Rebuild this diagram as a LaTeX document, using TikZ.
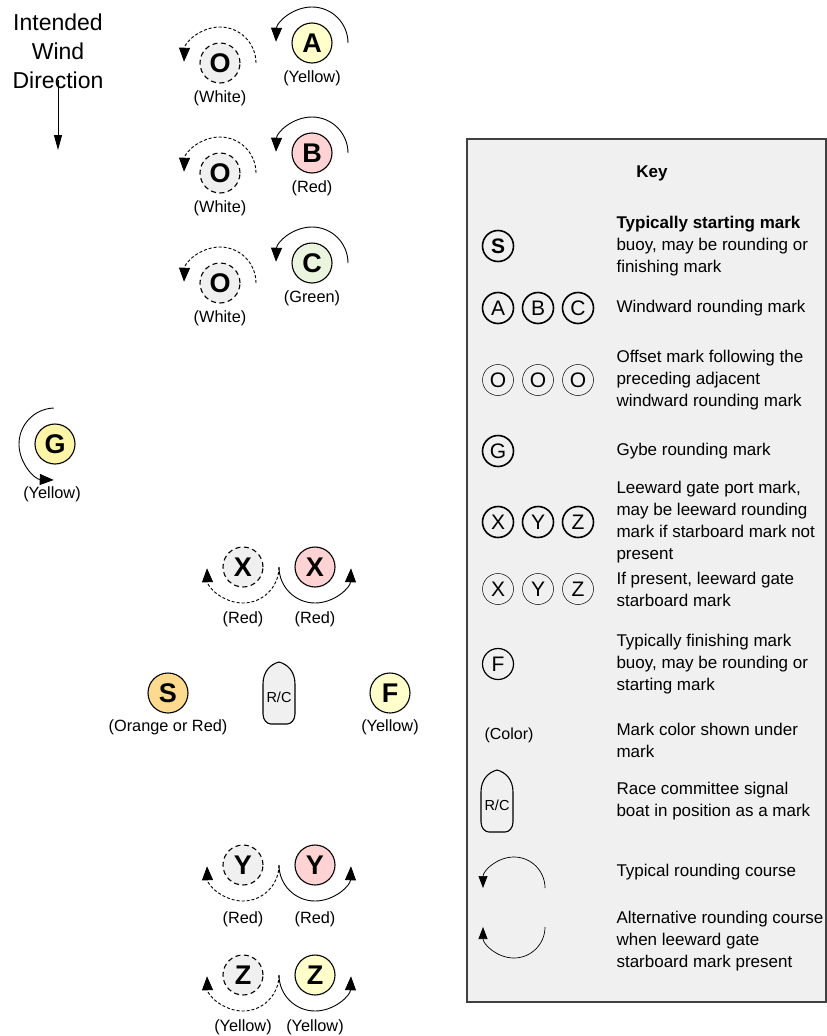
\documentclass[tikz,border=0pt]{standalone}
\usepackage{fontspec}
\setmainfont{Liberation Sans}
\usetikzlibrary{arrows.meta}
\definecolor{paleyellow}{HTML}{FFFFCC}
\definecolor{gybeyellow}{HTML}{FFF5A8}
\definecolor{palered}{HTML}{FFD3D3}
\definecolor{palegreen}{HTML}{EAF4DE}
\definecolor{paleorange}{HTML}{FDDA8E}
\definecolor{offgray}{HTML}{F0F0F0}
\definecolor{keygray}{HTML}{F0F0F0}
\begin{document}
\begin{tikzpicture}
  [x=1pt,y=-1pt,
   buoy/.style={circle,draw,line width=1.1pt,minimum size=40pt,inner sep=0pt,
     font=\fontsize{27}{27}\selectfont\bfseries},
   offbuoy/.style={buoy,dash pattern=on 5pt off 3.5pt,fill=offgray},
   tag/.style={font=\fontsize{16.3}{18}\selectfont},
   course/.style={line width=0.9pt,-{Triangle[length=14pt,width=11pt]}},
   altcourse/.style={course,dash pattern=on 3pt off 2pt},
   keybuoy/.style={circle,draw,line width=1.6pt,minimum size=31pt,inner sep=0pt,
     font=\fontsize{21}{21}\selectfont},
   keythin/.style={keybuoy,line width=0.5pt},
   keytext/.style={anchor=west,align=left,font=\fontsize{17}{22}\selectfont},
   boat/.style={draw,line width=1.1pt,fill=offgray}]
  \useasboundingbox (0,0) rectangle (827,1036);

  % wind
  \node[font=\fontsize{23}{29}\selectfont,align=center] (wind) at (58,51)
    {Intended\\Wind\\Direction};
  \coordinate (windtail) at (58,80);
  \coordinate (windhead) at (58,150);
  \draw[line width=1pt,-{Triangle[length=15pt,width=8pt]}] (windtail) -- (windhead);

  % windward and offset marks
  \node[offbuoy] (o1) at (220,63) {O};
  \node[offbuoy] (o2) at (220,173) {O};
  \node[offbuoy] (o3) at (220,283) {O};
  \node[buoy,fill=paleyellow] (a) at (312,43) {A};
  \node[buoy,fill=palered] (b) at (312,153) {B};
  \node[buoy,fill=palegreen] (c) at (312,263) {C};
  \node[tag] (to1) at (220,98) {(White)};
  \node[tag] (to2) at (220,208) {(White)};
  \node[tag] (to3) at (220,318) {(White)};
  \node[tag] (ta) at (312,78) {(Yellow)};
  \node[tag] (tb) at (312,188) {(Red)};
  \node[tag] (tc) at (312,298) {(Green)};
  \foreach \m in {o1,o2,o3}
    \draw[altcourse] ([shift={(0:36)}]\m.center) arc[start angle=0,end angle=-178,radius=36];
  \foreach \m in {a,b,c}
    \draw[course] ([shift={(0:36)}]\m.center) arc[start angle=0,end angle=-178,radius=36];

  % gybe mark
  \node[buoy,fill=gybeyellow] (g) at (55,444) {G};
  \node[tag] (tg) at (52,494) {(Yellow)};
  \draw[course] ([shift={(-92:36)}]g.center) arc[start angle=-92,end angle=-268,radius=36];

  % leeward gates
  \node[offbuoy] (x1) at (243,567) {X};
  \node[buoy,fill=palered] (x2) at (315,567) {X};
  \node[offbuoy] (y1) at (243,865) {Y};
  \node[buoy,fill=palered] (y2) at (315,865) {Y};
  \node[offbuoy] (z1) at (243,975) {Z};
  \node[buoy,fill=paleyellow] (z2) at (315,975) {Z};
  \node[tag] (tx1) at (243,619) {(Red)};
  \node[tag] (tx2) at (315,619) {(Red)};
  \node[tag] (ty1) at (243,919) {(Red)};
  \node[tag] (ty2) at (315,919) {(Red)};
  \node[tag] (tz1) at (243,1027) {(Yellow)};
  \node[tag] (tz2) at (315,1027) {(Yellow)};
  \foreach \m in {x1,y1,z1}
    \draw[altcourse] ([shift={(0:36)}]\m.center) arc[start angle=0,end angle=178,radius=36];
  \foreach \m in {x2,y2,z2}
    \draw[course] ([shift={(180:36)}]\m.center) arc[start angle=180,end angle=2,radius=36];

  % start line
  \node[buoy,fill=paleorange] (s) at (168,693) {S};
  \node[buoy,fill=paleyellow] (f) at (390,693) {F};
  \node[tag] (ts) at (168,727) {(Orange or Red)};
  \node[tag] (tf) at (390,727) {(Yellow)};

  % key
  \draw[line width=1.3pt,draw=black!75,fill=keygray] (467,139) rectangle (826,1002);
  \node[font=\fontsize{17}{17}\selectfont\bfseries] (key) at (652,173) {Key};

  % committee boats
  \foreach \bx/\by/\nm in {279/693/rc, 497/801/krc}{
    \draw[boat] (\bx-16,\by+21) -- (\bx-16,\by-9)
      .. controls (\bx-16,\by-22) and (\bx-8,\by-29) .. (\bx,\by-31)
      .. controls (\bx+8,\by-29) and (\bx+16,\by-22) .. (\bx+16,\by-9)
      -- (\bx+16,\by+21) .. controls (\bx+16,\by+27) and (\bx+12,\by+31) .. (\bx+8,\by+31)
      -- (\bx-8,\by+31) .. controls (\bx-12,\by+31) and (\bx-16,\by+27) .. (\bx-16,\by+21) -- cycle;
    \node[font=\fontsize{14.5}{14.5}\selectfont] (\nm) at (\bx,\by+4) {R/C};
  }

  \node[keybuoy,font=\fontsize{21}{21}\selectfont\bfseries] (ks) at (498,246) {S};
  \node[keytext] (kts) at (613,246)
    {\textbf{Typically starting mark}\\buoy, may be rounding or\\finishing mark};

  \node[keybuoy] (ka) at (498,308) {A};
  \node[keybuoy] (kb) at (538,308) {B};
  \node[keybuoy] (kc) at (578,308) {C};
  \node[keytext] (ktw) at (613,308) {Windward rounding mark};

  \node[keythin] (ko1) at (498,380) {O};
  \node[keythin] (ko2) at (538,380) {O};
  \node[keythin] (ko3) at (578,380) {O};
  \node[keytext] (kto) at (613,380)
    {Offset mark following the\\preceding adjacent\\windward rounding mark};

  \node[keybuoy] (kg) at (498,451) {G};
  \node[keytext] (ktg) at (613,451) {Gybe rounding mark};

  \node[keybuoy] (kx) at (498,522) {X};
  \node[keybuoy] (ky) at (538,522) {Y};
  \node[keybuoy] (kz) at (578,522) {Z};
  \node[keytext] (ktp) at (613,522)
    {Leeward gate port mark,\\may be leeward rounding\\mark if starboard mark not\\present};

  \node[keythin] (kx2) at (498,589) {X};
  \node[keythin] (ky2) at (538,589) {Y};
  \node[keythin] (kz2) at (578,589) {Z};
  \node[keytext] (ktsb) at (613,589) {If present, leeward gate\\starboard mark};

  \node[keybuoy,line width=1.2pt] (kf) at (498,664) {F};
  \node[keytext] (ktf) at (613,664)
    {Typically finishing mark\\buoy, may be rounding or\\starting mark};

  \node[font=\fontsize{16}{18}\selectfont,anchor=west] (kcol) at (481,735) {(Color)};
  \node[keytext] (ktc) at (613,740) {Mark color shown under\\mark};

  \node[keytext] (ktr) at (613,801) {Race committee signal\\boat in position as a mark};

  \coordinate (kc1) at (514,888);
  \coordinate (kc2) at (514,927);
  \draw[line width=0.7pt,-{Triangle[length=12pt,width=9pt]}] ([shift={(0:31)}]kc1)
    arc[start angle=0,end angle=-180,radius=31];
  \draw[line width=0.7pt,-{Triangle[length=12pt,width=9pt]}] ([shift={(0:31)}]kc2)
    arc[start angle=0,end angle=180,radius=31];
  \node[keytext] (ktt) at (613,872) {Typical rounding course};
  \node[keytext] (kta) at (613,941)
    {Alternative rounding course\\when leeward gate\\starboard mark present};
\end{tikzpicture}
\end{document}
